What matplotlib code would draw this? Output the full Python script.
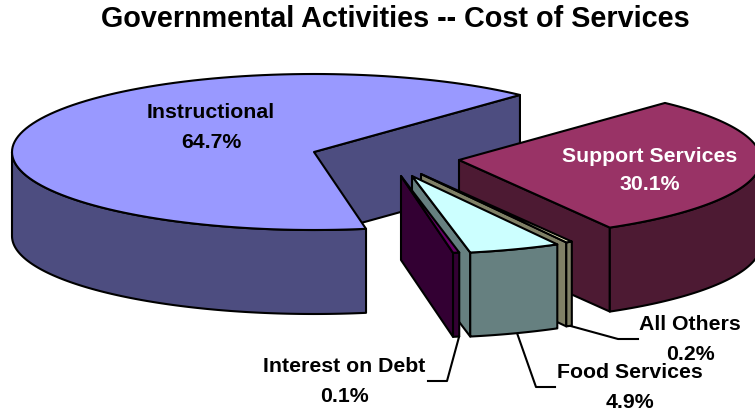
import numpy as np
import matplotlib
matplotlib.use("Agg")
import matplotlib.pyplot as plt
from matplotlib.patches import Polygon

plt.rcParams['font.family'] = ['Liberation Sans', 'DejaVu Sans']

# counter-clockwise from the back right edge of Instructional
names = ["Instructional", "Interest on Debt", "Food Services", "All Others", "Support Services"]
values = [64.7, 0.1, 4.9, 0.2, 30.1]
top_colors = ["#9999FF", "#660066", "#CCFFFF", "#FFFFCC", "#993366"]
side_colors = ["#4D4D80", "#330033", "#668080", "#808066", "#4D1A33"]

# exploded centre of every slice, pixels
centers = [(314, 152), (401, 176), (412, 176), (421, 174), (459, 160)]

rx = 302
ry = 78
depth = 84
startAngle = 47
minSweep = 1.2  # tiny slices would vanish otherwise
lw = 1.5


def rim(c, a0, a1, n=120):
    a = np.radians(np.linspace(a0, a1, n))
    return np.column_stack([c[0] + rx * np.cos(a), c[1] - ry * np.sin(a)])


def face(ax, pts, color, z):
    ax.add_patch(Polygon(pts, closed=True, facecolor=color, edgecolor="black",
                         linewidth=lw, joinstyle="round", zorder=z))


def drawSlice(ax, i, a0, a1, z):
    c = centers[i]
    down = np.array([0, depth])
    apex = np.array(c, dtype=float)

    # cut face on the side turned towards us
    p0 = rim(c, a0, a0, 1)[0]
    face(ax, [apex, p0, p0 + down, apex + down], side_colors[i], z)

    # outer wall, front half only
    for lo, hi in [(a0, a1), (a0 - 360, a1 - 360)]:
        lo2 = max(lo, 180)
        hi2 = min(hi, 360)
        if hi2 > lo2:
            arc = rim(c, lo2, hi2)
            face(ax, np.vstack([arc, arc[::-1] + down]), side_colors[i], z + 0.1)

    # top
    face(ax, np.vstack([apex, rim(c, a0, a1)]), top_colors[i], z + 0.2)


def main():
    fig = plt.figure(figsize=(7.55, 4.13), dpi=100)
    ax = fig.add_axes([0, 0, 1, 1])
    ax.set_xlim(0, 755)
    ax.set_ylim(413, 0)
    ax.axis("off")

    s = np.maximum(np.array(values) * 3.6, minSweep)
    edges = startAngle + np.concatenate([[0], np.cumsum(s)])
    edges[-1] = startAngle + 360  # last slice closes the circle
    # back to front
    zorders = {0: 1, 4: 2, 3: 3, 2: 4, 1: 5}
    for i in range(len(values)):
        drawSlice(ax, i, edges[i], edges[i + 1], zorders[i])

    # leader lines
    ax.plot([567, 618, 638], [325, 339, 339], color="black", lw=lw, zorder=0.5)
    ax.plot([517, 536, 555], [333, 387, 387], color="black", lw=lw, zorder=0.5)
    ax.plot([459, 447, 428], [337, 381, 381], color="black", lw=lw, zorder=0.5)

    ax.text(395, 19, "Governmental Activities -- Cost of Services", fontsize=20.7,
            fontweight="bold", ha="center", va="center")

    labelPos = [(211, 113, 142, "black"), (344, 367, 397, "black"), (630, 373, 402, "black"),
                (690, 325, 354, "black"), (650, 157, 185, "white")]
    for i, (x, y0, y1, col) in enumerate(labelPos):
        ax.text(x, y0, names[i], fontsize=15.3, fontweight="bold", color=col,
                ha="center", va="center", zorder=10)
        ax.text(x, y1, "%.1f%%" % values[i], fontsize=15.3, fontweight="bold", color=col,
                ha="center", va="center", zorder=10)

    fig.savefig("out.png", dpi=100)


if __name__ == "__main__":
    main()
